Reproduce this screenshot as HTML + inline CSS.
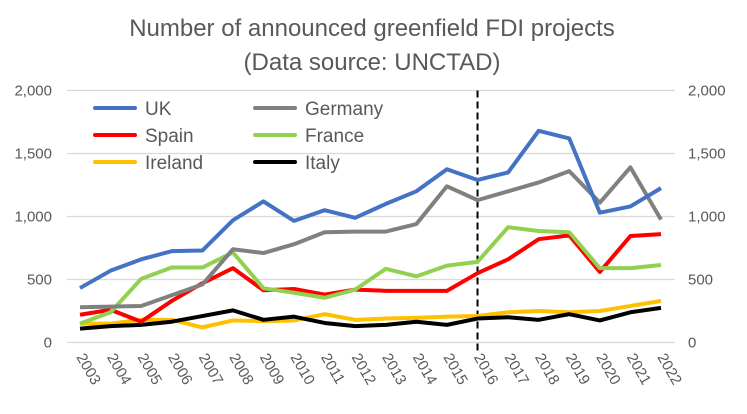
<!DOCTYPE html>
<html><head><meta charset="utf-8"><style>
html,body{margin:0;padding:0;background:#fff}
svg{display:block;font-family:"Liberation Sans",sans-serif}
</style></head><body>
<svg id="chart" width="747" height="414" viewBox="0 0 747 414" xmlns="http://www.w3.org/2000/svg">
<rect width="747" height="414" fill="#fff"/>
<text x="372" y="36" text-anchor="middle" font-size="24" fill="#595959">Number of announced greenfield FDI projects</text>
<text x="372" y="70" text-anchor="middle" font-size="24" fill="#595959">(Data source: UNCTAD)</text>
<g id="grid"></g><g id="axes"></g><g id="series"></g><g id="legend"></g>
</svg>
<script>
const years = ["2003","2004","2005","2006","2007","2008","2009","2010","2011","2012","2013","2014","2015","2016","2017","2018","2019","2020","2021","2022"];
const yTicks = [0,500,1000,1500,2000];
const yTickLabels = ["0","500","1,000","1,500","2,000"];
const ukValues = [432,570,660,725,730,970,1120,965,1050,990,1100,1200,1375,1290,1350,1680,1620,1030,1080,1225];
const germanyValues = [280,285,290,375,460,740,710,780,875,880,880,940,1240,1130,1200,1270,1360,1110,1390,975];
const spainValues = [220,260,165,330,470,590,415,425,380,420,410,410,410,550,660,820,850,560,845,860];
const franceValues = [150,240,505,595,595,715,430,395,355,420,585,525,610,640,915,885,875,590,590,615];
const irelandValues = [150,150,180,180,120,175,170,175,225,180,190,195,205,210,240,250,240,250,290,330];
const italyValues = [110,130,140,165,210,255,180,205,155,130,140,165,140,190,200,180,225,175,240,275];
const markerYear = "2016";

const NS="http://www.w3.org/2000/svg";
const x0=80,x1=661,y0=342.5,yTop=90.5;
function xs(i){return x0+(x1-x0)*i/(years.length-1);}
function ys(v){return y0-(y0-yTop)*v/2000;}
function mk(tag,attrs,parent){const e=document.createElementNS(NS,tag);for(const k in attrs)e.setAttribute(k,attrs[k]);parent.appendChild(e);return e;}
const grid=document.getElementById('grid'),axes=document.getElementById('axes'),ser=document.getElementById('series'),leg=document.getElementById('legend');
yTicks.forEach((t,i)=>{
  const l=mk('line',{x1:67,x2:675,y1:ys(t),y2:ys(t),stroke:'#d9d9d9','stroke-width':1.2},grid);
  
  
  const a=mk('text',{x:52,y:ys(t)+5,'text-anchor':'end','font-size':15,fill:'#595959'},axes);
  a.textContent=yTickLabels[i];
  
  
  const b=mk('text',{x:688,y:ys(t)+5,'text-anchor':'start','font-size':15,fill:'#595959'},axes);
  b.textContent=yTickLabels[i];
  
  
});
years.forEach((y,i)=>{
  const t=mk('text',{x:0,y:0,'font-size':15,fill:'#595959',transform:`translate(${xs(i)-4},${357}) rotate(60)`},axes);
  t.textContent=y;
  
  
});
const mi=years.indexOf(markerYear);
const dl=mk('line',{x1:xs(mi),x2:xs(mi),y1:yTop,y2:y0+12,stroke:'#000','stroke-width':2,'stroke-dasharray':'7,4'},ser);


const series=[
 ["UK",ukValues,"#4472c4"],["Germany",germanyValues,"#808080"],["Spain",spainValues,"#ff0000"],
 ["France",franceValues,"#92d050"],["Ireland",irelandValues,"#ffc000"],["Italy",italyValues,"#000000"]];
const drawOrder=[4,5,2,3,1,0];
drawOrder.forEach(k=>{
  const [n,vals,c]=series[k];
  const p=mk('polyline',{points:vals.map((v,i)=>xs(i)+','+ys(v)).join(' '),fill:'none',stroke:c,'stroke-width':4,'stroke-linejoin':'round'},ser);
  
  
});
series.forEach(([n,vals,c],k)=>{
  const col=k%2,row=Math.floor(k/2);
  const lx=95+col*160,ly=108+row*27;
  const g=mk('g',{},leg);
  
  
  mk('line',{x1:lx,x2:lx+40,y1:ly,y2:ly,stroke:c,'stroke-width':4,'stroke-linecap':'round'},g);
  const t=mk('text',{x:lx+50,y:ly+7,'font-size':19,fill:'#595959'},g);
  t.textContent=n;
});
</script>
</body></html>
